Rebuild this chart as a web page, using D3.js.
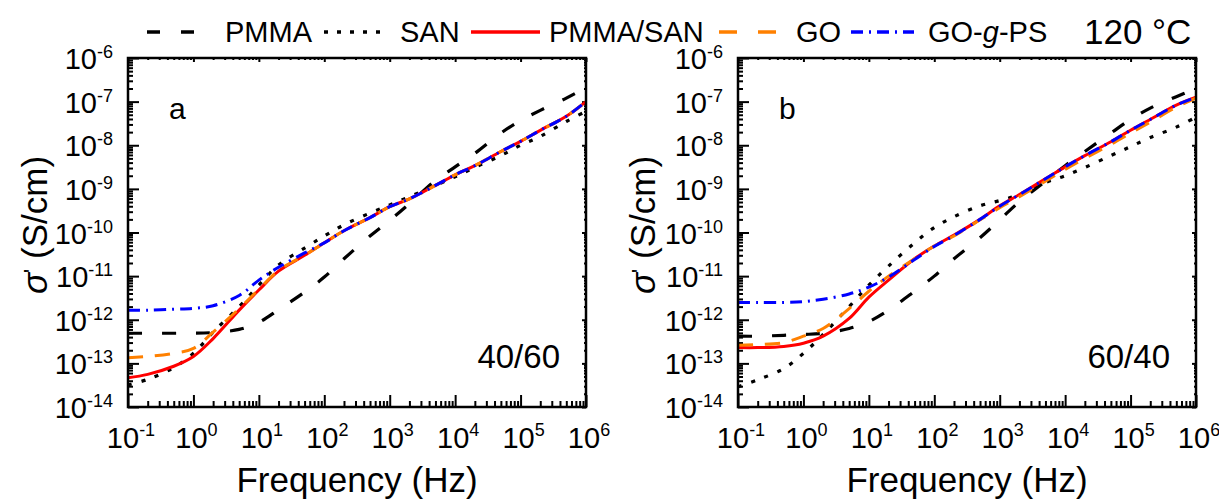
<!DOCTYPE html>
<html>
<head>
<meta charset="utf-8">
<script src="https://cdn.jsdelivr.net/npm/d3@7"></script>
<style>
  body { margin: 0; background: #fff; }
  svg { display: block; font-family: "Liberation Sans", Arial, sans-serif; }
</style>
</head>
<body>
<svg id="chart"></svg>
<script>
// frequencies (Hz) shared by every curve
const freq = [0.1, 0.2, 0.5, 1, 2, 5, 10, 20, 50, 100, 200, 500, 1e3, 2e3, 5e3, 1e4, 2e4, 5e4, 1e5, 2e5, 5e5, 1e6];

// panel a : 40/60
const pmmaA  = [4.9e-13, 4.9e-13, 4.9e-13, 4.9e-13, 5.1e-13, 6.0e-13, 8.7e-13, 1.7e-12, 4.3e-12, 9.5e-12, 2.5e-11, 8.3e-11, 1.9e-10, 4.6e-10, 1.55e-9, 3.2e-9, 6.5e-9, 1.9e-8, 3.7e-8, 6.3e-8, 1.2e-7, 2.1e-7];
const sanA   = [3.2e-14, 4.3e-14, 8.0e-14, 1.7e-13, 5.2e-13, 2.0e-12, 6.2e-12, 1.8e-11, 4.4e-11, 8.3e-11, 1.5e-10, 2.8e-10, 4.3e-10, 6.6e-10, 1.2e-9, 1.9e-9, 3.1e-9, 5.8e-9, 1.0e-8, 1.6e-8, 3.5e-8, 6.0e-8];
const blendA = [4.7e-14, 5.6e-14, 8.6e-14, 1.44e-13, 3.7e-13, 1.66e-12, 4.8e-12, 1.3e-11, 3.0e-11, 5.8e-11, 1.1e-10, 2.2e-10, 3.9e-10, 5.9e-10, 1.2e-9, 2.1e-9, 3.4e-9, 7.2e-9, 1.23e-8, 2.2e-8, 4.6e-8, 1.0e-7];
const goA    = [1.35e-13, 1.44e-13, 1.7e-13, 2.2e-13, 5.2e-13, 1.8e-12, 5.0e-12, 1.35e-11, 3.0e-11, 5.8e-11, 1.1e-10, 2.2e-10, 3.9e-10, 5.9e-10, 1.2e-9, 2.1e-9, 3.4e-9, 7.2e-9, 1.23e-8, 2.2e-8, 4.6e-8, 1.0e-7];
const goPsA  = [1.65e-12, 1.65e-12, 1.74e-12, 1.82e-12, 2.1e-12, 3.6e-12, 8.1e-12, 1.6e-11, 3.4e-11, 5.8e-11, 1.1e-10, 2.2e-10, 3.9e-10, 5.9e-10, 1.2e-9, 2.1e-9, 3.4e-9, 7.2e-9, 1.23e-8, 2.2e-8, 4.6e-8, 1.0e-7];

// panel b : 60/40
const pmmaB  = [4.2e-13, 4.2e-13, 4.4e-13, 4.6e-13, 4.9e-13, 6.3e-13, 9.1e-13, 1.66e-12, 4.5e-12, 1.0e-11, 2.5e-11, 7.6e-11, 1.95e-10, 5.1e-10, 1.5e-9, 3.4e-9, 7.2e-9, 1.9e-8, 3.9e-8, 7.1e-8, 1.3e-7, 2.0e-7];
const sanB   = [2.9e-14, 4.2e-14, 7.6e-14, 1.7e-13, 4.6e-13, 2.0e-12, 6.2e-12, 1.7e-11, 5.8e-11, 1.3e-10, 2.3e-10, 4.1e-10, 5.4e-10, 7.4e-10, 1.4e-9, 2.0e-9, 3.1e-9, 5.8e-9, 9.3e-9, 1.5e-8, 2.6e-8, 4.4e-8];
const blendB = [2.3e-13, 2.3e-13, 2.45e-13, 2.9e-13, 4.2e-13, 1.07e-12, 3.3e-12, 8.1e-12, 2.5e-11, 4.9e-11, 8.7e-11, 2.0e-10, 4.1e-10, 7.4e-10, 1.7e-9, 3.2e-9, 5.8e-9, 1.2e-8, 2.2e-8, 3.9e-8, 8.3e-8, 1.26e-7];
const goB    = [2.6e-13, 2.7e-13, 3.0e-13, 4.2e-13, 6.3e-13, 1.8e-12, 4.5e-12, 1.0e-11, 2.5e-11, 4.9e-11, 8.3e-11, 1.95e-10, 3.7e-10, 6.6e-10, 1.5e-9, 2.8e-9, 5.0e-9, 1.05e-8, 1.9e-8, 3.4e-8, 7.4e-8, 1.2e-7];
const goPsB  = [2.5e-12, 2.5e-12, 2.5e-12, 2.6e-12, 2.95e-12, 3.9e-12, 5.6e-12, 9.5e-12, 2.4e-11, 4.8e-11, 8.5e-11, 2.0e-10, 4.0e-10, 7.4e-10, 1.7e-9, 3.2e-9, 5.8e-9, 1.2e-8, 2.2e-8, 3.9e-8, 8.3e-8, 1.26e-7];

// tick labels (exponents of ten)
const xExps = [-1, 0, 1, 2, 3, 4, 5, 6];
const yExps = [-6, -7, -8, -9, -10, -11, -12, -13, -14];

const seriesNames = ["PMMA", "SAN", "PMMA/SAN", "GO", "GO-g-PS"];

const styles = {
  "PMMA":     {color: "#000",    width: 3.2, dash: "14,20",     legendDash: "13,21"},
  "SAN":      {color: "#000",    width: 3.2, dash: "4,10",      legendDash: "4,9"},
  "PMMA/SAN": {color: "#ff0000", width: 3,   dash: null,        legendDash: null},
  "GO":       {color: "#ff8000", width: 3,   dash: "15,12",     legendDash: "18,21"},
  "GO-g-PS":  {color: "#0000ff", width: 3,   dash: "12,6,2,6",  legendDash: "12,6,2,6"}
};

const panels = [
  {left: 128, right: 586, letter: "a", ratio: "40/60", titleX: 47,
   data: {"PMMA": pmmaA, "SAN": sanA, "PMMA/SAN": blendA, "GO": goA, "GO-g-PS": goPsA}},
  {left: 738, right: 1196, letter: "b", ratio: "60/40", titleX: 655,
   data: {"PMMA": pmmaB, "SAN": sanB, "PMMA/SAN": blendB, "GO": goB, "GO-g-PS": goPsB}}
];

const W = 1219, H = 502, plotTop = 58, plotBottom = 407;

const svg = d3.select("#chart").attr("width", W).attr("height", H);

// minor tick values
function minors(lo, hi) {
  const out = [];
  for (let e = lo; e < hi; e++) for (let m = 2; m <= 9; m++) out.push(m * Math.pow(10, e));
  return out;
}

panels.forEach(function (p, pi) {
  const x = d3.scaleLog().domain([0.1, 1e6]).range([p.left, p.right]);
  const y = d3.scaleLog().domain([1e-14, 1e-6]).range([plotBottom, plotTop]);
  const g = svg.append("g");

  const xMaj = xExps.map(e => Math.pow(10, e));
  const yMaj = yExps.map(e => Math.pow(10, e));
  const xMin = minors(-1, 6), yMin = minors(-14, -6);

  function axis(gen, pos, tv, size) {
    const a = g.append("g").attr("transform", pos)
      .call(gen.tickValues(tv).tickSize(size).tickFormat(""));
    a.select(".domain").remove();
    a.selectAll("line").attr("stroke", "#000").attr("stroke-width", 2);
  }
  axis(d3.axisBottom(x), "translate(0," + plotBottom + ")", xMaj, -12);
  axis(d3.axisBottom(x), "translate(0," + plotBottom + ")", xMin, -6);
  axis(d3.axisLeft(y), "translate(" + p.left + ",0)", yMaj, -11);
  axis(d3.axisLeft(y), "translate(" + p.left + ",0)", yMin, -5);
  axis(d3.axisTop(x), "translate(0," + plotTop + ")", xMaj, -4);
  axis(d3.axisTop(x), "translate(0," + plotTop + ")", xMin, -2);
  axis(d3.axisRight(y), "translate(" + p.right + ",0)", yMaj, -4);
  axis(d3.axisRight(y), "translate(" + p.right + ",0)", yMin, -2);

  // curves
  const clipId = "clip" + pi;
  svg.append("clipPath").attr("id", clipId).append("rect")
    .attr("x", p.left).attr("y", plotTop).attr("width", p.right - p.left).attr("height", plotBottom - plotTop);

  const line = d3.line()
    .x(d => x(d[0]))
    .y(d => y(d[1]))
    .curve(d3.curveCatmullRom.alpha(0.5));

  seriesNames.forEach(function (name) {
    const s = styles[name];
    g.append("path")
      .datum(freq.map((f, i) => [f, p.data[name][i]]))
      .attr("clip-path", "url(#" + clipId + ")")
      .attr("fill", "none")
      .attr("stroke", s.color)
      .attr("stroke-width", s.width)
      .attr("stroke-dasharray", s.dash)
      .attr("d", line);
  });

  // frame
  g.append("rect")
    .attr("x", p.left).attr("y", plotTop)
    .attr("width", p.right - p.left).attr("height", plotBottom - plotTop)
    .attr("fill", "none").attr("stroke", "#000").attr("stroke-width", 2.5);

  // x tick labels
  xExps.forEach(function (e) {
    const t = g.append("text")
      .attr("x", x(Math.pow(10, e)) + 3).attr("y", 448)
      .attr("text-anchor", "middle").attr("font-size", 29);
    t.append("tspan").text("10");
    t.append("tspan").attr("dy", -12).attr("font-size", 18).text(e);
  });

  // y tick labels
  yExps.forEach(function (e) {
    const t = g.append("text")
      .attr("x", p.left - 15).attr("y", y(Math.pow(10, e)) + 11)
      .attr("text-anchor", "end").attr("font-size", 29);
    t.append("tspan").text("10");
    t.append("tspan").attr("dy", -11).attr("font-size", 18).text(e);
  });

  // axis titles
  g.append("text")
    .attr("x", (p.left + p.right) / 2).attr("y", 492)
    .attr("text-anchor", "middle").attr("font-size", 35)
    .text("Frequency (Hz)");

  const yt = g.append("text")
    .attr("transform", "translate(" + p.titleX + "," + 225 + ") rotate(-90)")
    .attr("text-anchor", "middle").attr("font-size", 35);
  yt.append("tspan").attr("font-style", "italic").text("σ");
  yt.append("tspan").attr("dy", -8).attr("font-size", 22).text("'");
  yt.append("tspan").attr("dy", 8).text(" (S/cm)");

  // panel letter and composition
  g.append("text").attr("x", p.left + 41).attr("y", 119)
    .attr("font-size", 30).text(p.letter);
  g.append("text").attr("x", p.right - 26).attr("y", 368)
    .attr("text-anchor", "end").attr("font-size", 33).text(p.ratio);
});

// legend
const legendPos = [
  {name: "PMMA",     x0: 147, x1: 215, tx: 225},
  {name: "SAN",      x0: 324, x1: 389, tx: 400},
  {name: "PMMA/SAN", x0: 471, x1: 540, tx: 549},
  {name: "GO",       x0: 719, x1: 786, tx: 796},
  {name: "GO-g-PS",  x0: 851, x1: 914, tx: 928}
];
const lg = svg.append("g");
legendPos.forEach(function (d) {
  const s = styles[d.name];
  lg.append("line")
    .attr("x1", d.x0).attr("x2", d.x1).attr("y1", 32).attr("y2", 32)
    .attr("stroke", s.color).attr("stroke-width", 3.5)
    .attr("stroke-dasharray", s.legendDash);
  const t = lg.append("text").attr("x", d.tx).attr("y", 42).attr("font-size", 29);
  if (d.name === "GO-g-PS") {
    t.append("tspan").text("GO-");
    t.append("tspan").attr("font-style", "italic").text("g");
    t.append("tspan").text("-PS");
  } else {
    t.text(d.name);
  }
});
lg.append("text").attr("x", 1084).attr("y", 44).attr("font-size", 35).text("120 °C");
</script>
</body>
</html>
